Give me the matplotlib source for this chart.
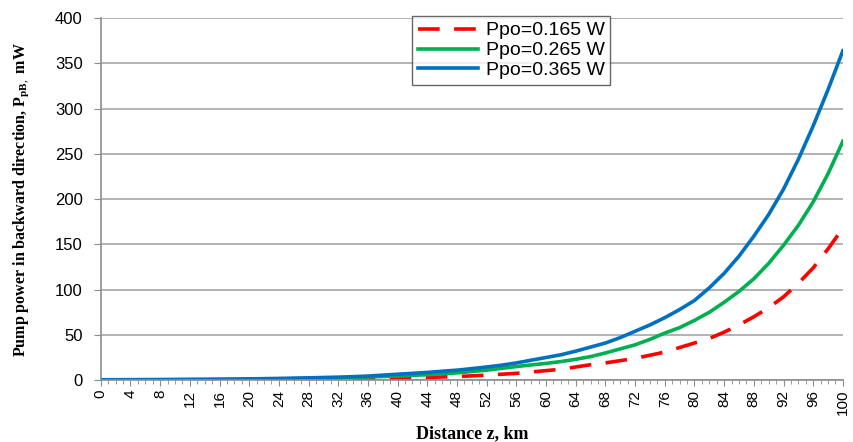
import numpy as np
import matplotlib
matplotlib.use("Agg")
import matplotlib.pyplot as plt
from matplotlib.ticker import MultipleLocator

plt.rcParams["font.family"] = ["Liberation Sans", "DejaVu Sans"]
plt.rcParams["mathtext.fontset"] = "custom"
plt.rcParams["mathtext.rm"] = "Liberation Serif"
plt.rcParams["mathtext.bf"] = "Liberation Serif:bold"

# distance along fibre, km
km = [0, 2, 4, 6, 8, 10, 12, 14, 16, 18, 20, 22, 24, 26, 28, 30, 32, 34, 36, 38, 40,
      42, 44, 46, 48, 50, 52, 54, 56, 58, 60, 62, 64, 66, 68, 70, 72, 74, 76, 78, 80,
      82, 84, 86, 88, 90, 92, 94, 96, 98, 100]

# backward pump power, mW
p_0165 = [0.1, 0.12, 0.14, 0.16, 0.18, 0.2, 0.23, 0.26, 0.3, 0.35, 0.4, 0.47, 0.55, 0.65,
          0.75, 0.9, 1.05, 1.25, 1.5, 1.75, 2.0, 2.5, 3.0, 3.5, 4.0, 4.7, 5.5, 6.5, 7.5,
          9.0, 10.5, 12, 14.5, 17, 19, 21.5, 24, 27.5, 31, 36, 41, 46, 53, 61, 70, 80,
          92, 107, 124, 145, 168]
p_0265 = [0.25, 0.3, 0.33, 0.37, 0.42, 0.48, 0.55, 0.62, 0.7, 0.8, 0.95, 1.1, 1.3, 1.5,
          1.8, 2.1, 2.4, 2.9, 3.5, 4.0, 4.5, 5.2, 6.0, 7.0, 8.0, 9.5, 11, 13, 15, 16.8,
          18.5, 20.5, 23, 26, 30, 34.5, 39, 45, 52, 58, 66, 75, 86, 98, 112, 129, 149,
          171, 197, 228, 264]
p_0365 = [0.4, 0.45, 0.5, 0.55, 0.6, 0.7, 0.8, 0.9, 1.0, 1.2, 1.4, 1.6, 1.9, 2.2, 2.5,
          2.9, 3.3, 3.8, 4.5, 5.5, 6.5, 7.5, 8.5, 9.8, 11, 12.7, 14.5, 16.5, 19, 22, 25,
          28, 32, 36.5, 41, 47, 54, 61, 69, 78, 88, 102, 118, 137, 159, 183, 211, 244,
          281, 321, 364]

labels = ["Ppo=0.165 W", "Ppo=0.265 W", "Ppo=0.365 W"]

fig = plt.figure(figsize=(8.54, 4.42), dpi=100)
ax = fig.add_axes([0.118, 0.140, 0.869, 0.819])

ax.plot(km, p_0165, color="#ff0000", lw=2.6, dashes=(6, 4), label=labels[0])
ax.plot(km, p_0265, color="#00b050", lw=2.6, label=labels[1])
ax.plot(km, p_0365, color="#0070c0", lw=2.6, label=labels[2])

ax.set_xlim(0, 100)
ax.set_ylim(0, 400)
ax.xaxis.set_minor_locator(MultipleLocator(1))
ax.yaxis.set_major_locator(MultipleLocator(50))
ax.set_xticks(list(range(0, 97, 4)) + [100])

ax.grid(axis="y", color="#a6a6a6", lw=1.2)
ax.set_axisbelow(True)
for s in ["top", "right"]:
    ax.spines[s].set_visible(False)
for s in ["left", "bottom"]:
    ax.spines[s].set_color("#8c8c8c")
    ax.spines[s].set_linewidth(1.2)

ax.tick_params(axis="y", length=5, color="#8c8c8c", labelsize=12, pad=8)
ax.tick_params(axis="x", which="major", length=4, color="#8c8c8c", labelsize=11,
               labelrotation=90, pad=3)
ax.tick_params(axis="x", which="minor", length=3, color="#8c8c8c")

ax.set_xlabel("Distance z, km", family="Liberation Serif", fontweight="bold",
              fontsize=13, labelpad=7)
ax.set_ylabel(r"Pump power in backward direction, P$_{\mathbf{pB},}$ mW",
              family="Liberation Serif", fontweight="bold", fontsize=11.5, labelpad=17)

leg = ax.legend(loc="upper center", bbox_to_anchor=(0.553, 1.006), fontsize=14,
                frameon=True, fancybox=False, edgecolor="#404040", handlelength=3.1,
                borderpad=0.3, labelspacing=0.12, handletextpad=0.4, borderaxespad=0)
leg.get_frame().set_linewidth(1.0)

fig.savefig("out.png", dpi=100)
